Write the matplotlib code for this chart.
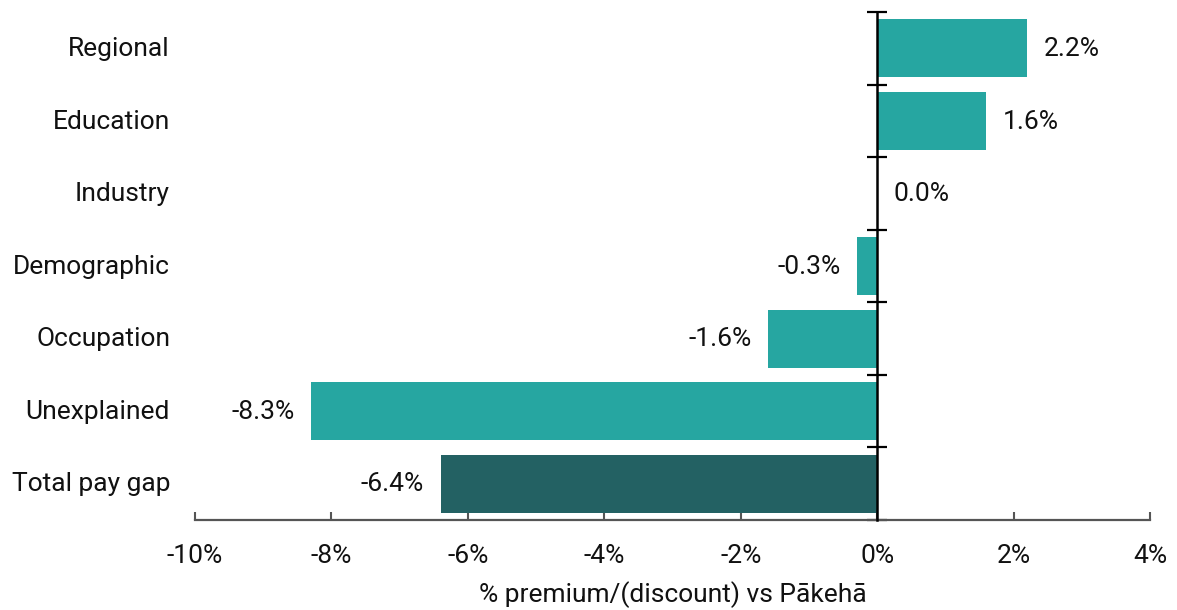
import matplotlib
matplotlib.use("Agg")
import matplotlib.pyplot as plt
import matplotlib.transforms as mtransforms

plt.rcParams['font.family'] = ['Roboto', 'DejaVu Sans']

categories = ["Regional", "Education", "Industry", "Demographic",
              "Occupation", "Unexplained", "Total pay gap"]
values = [2.2, 1.6, 0.0, -0.3, -1.6, -8.3, -6.4]
bar_colors = ["#26a6a1", "#26a6a1", "#26a6a1", "#26a6a1",
              "#26a6a1", "#26a6a1", "#236163"]
x_ticks = [-10, -8, -6, -4, -2, 0, 2, 4]
x_label = "% premium/(discount) vs Pākehā"

FS = 19

fig = plt.figure(figsize=(11.77, 6.10), dpi=100)
ax = fig.add_axes([195 / 1177, 1 - 520 / 610, (1150 - 195) / 1177, (520 - 12) / 610])

n = len(categories)
ypos = list(range(n))[::-1]
ax.barh(ypos, values, height=0.8, color=bar_colors, zorder=2)

ax.set_xlim(-10, 4)
ax.set_ylim(-0.5, n - 0.5)

# bottom axis
ax.set_xticks(x_ticks)
ax.set_xticklabels([f"{t}%" for t in x_ticks], fontsize=FS, color="#111111")
ax.tick_params(axis='x', direction='in', length=6, width=1.5, color="#555555", pad=17)
ax.spines['bottom'].set_color("#555555")
ax.spines['bottom'].set_linewidth(1.6)
for s in ['top', 'right']:
    ax.spines[s].set_visible(False)

# vertical axis at zero with category separators
ax.spines['left'].set_position(('data', 0))
ax.spines['left'].set_color("black")
ax.spines['left'].set_linewidth(1.8)
ax.spines['left'].set_zorder(3)
ax.set_yticks([i - 0.5 for i in range(n + 1)])
ax.set_yticklabels([])
ax.tick_params(axis='y', direction='inout', length=14, width=1.6, color="black")

# category names
trans = mtransforms.blended_transform_factory(ax.transAxes, ax.transData)
for y, name in zip(ypos, categories):
    ax.text(-25 / 955, y - 0.01, name, transform=trans, ha='right', va='center',
            fontsize=FS, color="#111111")

# value labels
off = 0.24
for y, v in zip(ypos, values):
    if v >= 0:
        ax.text(v + off, y - 0.01, f"{v:.1f}%", ha='left', va='center', fontsize=FS, color="#111111")
    else:
        ax.text(v - off, y - 0.01, f"{v:.1f}%", ha='right', va='center', fontsize=FS, color="#111111")

ax.set_xlabel(x_label, fontsize=FS, color="#111111", labelpad=10)

fig.savefig("out.png", dpi=100)
